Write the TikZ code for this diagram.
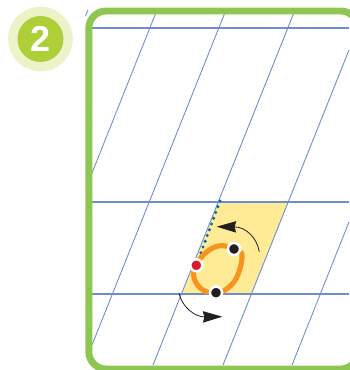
\documentclass[tikz,border=0pt]{standalone}
\usepackage{fontspec}
\setsansfont{Liberation Sans}
\usetikzlibrary{arrows.meta}
\definecolor{framegreen}{RGB}{141,198,80}
\definecolor{badgegreen}{RGB}{174,207,56}
\definecolor{badgepale}{RGB}{238,242,200}
\definecolor{gridblue}{RGB}{112,140,206}
\definecolor{cellyellow}{RGB}{255,235,150}
\definecolor{looporange}{RGB}{247,148,30}
\definecolor{stateblack}{RGB}{35,31,32}
\definecolor{statered}{RGB}{214,28,46}
\definecolor{dotblue}{RGB}{0,102,179}
\tikzset{
  gridline/.style={gridblue,line width=.65pt},
  state/.style={circle,draw=white,line width=1.8pt,inner sep=0pt,minimum size=9pt},
  turn/.style={stateblack,line width=.6pt,-{Stealth[length=14.5pt,width=8.5pt,inset=1pt]}},
}
\begin{document}
\begin{tikzpicture}[x=.75pt,y=-.75pt]
\useasboundingbox (0,0) rectangle (349,370);
% badge
\node[circle,fill=badgepale,minimum size=48.5pt,inner sep=0pt] (badge) at (40.5,39) {};
\node[circle,fill=badgegreen,minimum size=34.5pt,inner sep=0pt,text=white,font=\sffamily\bfseries\fontsize{27}{27}\selectfont] (num) at (badge.center) {2};
% grid
\fill[cellyellow] (218.6,202)--(288,202)--(251.2,294)--(181.8,294)--cycle;
\foreach \y in {28,202,294}{\draw[gridline,line width=.85pt] (90,\y)--(349,\y);}
\foreach \xa/\ya/\xb/\yb in {88/10/85.5/16,157/10/90/178,226/10/92/345,295/10/153/365,349/50/223/365,349/222/292/365}{\draw[gridline] (\xa,\ya)--(\xb,\yb);}
% frame
\draw[framegreen,line width=5.2pt,rounded corners=13pt] (88.8,11) rectangle (358,369);
% loop
\node[state,fill=stateblack] (s1) at (234,249) {};
\node[state,fill=stateblack] (s2) at (216,292.7) {};
\node[state,fill=statered] (s3) at (196.3,265.3) {};
\coordinate (top) at (220,201);
\draw[dotblue,line width=2.5pt,line cap=round,dash pattern=on 0pt off 4.6pt] (top)--(s3);
\draw[looporange,line width=3.8pt] (s1) .. controls (243,253) and (243,264) .. (236,279) .. controls (231,287) and (224,291) .. (s2) .. controls (205,292) and (195,287) .. (193.5,275) .. controls (193,262) and (212,241) .. (s1);
\node[state,fill=stateblack] at (s1) {};
\node[state,fill=stateblack] at (s2) {};
\node[state,fill=statered] at (s3) {};
% turning arrows
\coordinate (a1) at (259.3,251.7);
\coordinate (a2) at (216.7,226.7);
\coordinate (b1) at (179,293.3);
\coordinate (b2) at (222.3,316.7);
\draw[turn] (a1) .. controls (257,238) and (246,227) .. (a2);
\draw[turn] (b1) .. controls (182,307) and (195,317) .. (b2);
\end{tikzpicture}
\end{document}
